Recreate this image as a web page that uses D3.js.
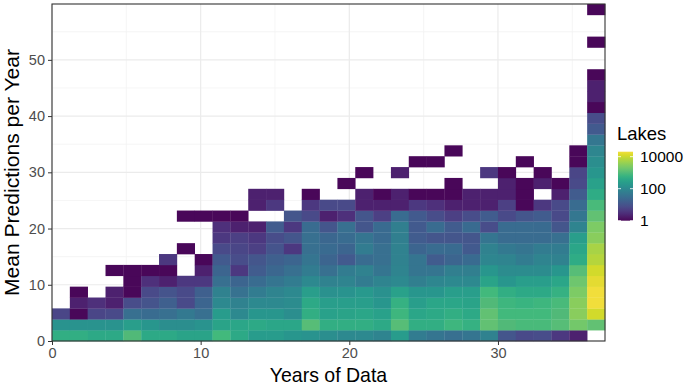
<!DOCTYPE html>
<html>
<head>
<meta charset="utf-8">
<script src="https://cdn.jsdelivr.net/npm/d3@7"></script>
<style>
  body { margin: 0; background: #fff; }
  text { font-family: "Liberation Sans", Arial, sans-serif; }
</style>
</head>
<body>
<div id="chart"></div>
<script>
// 2d histogram bins: years of data (x) and mean predictions per year (y)
var yearBinWidth = 1.2;
var predBinWidth = 58 / 30;

// lakes per bin, one array per year bin, lowest prediction bin first (null = empty)
var lakeCounts = [
  [501, 158, 6],
  [501, 158, 1, 2, 1],
  [398, 158, 6, 3],
  [398, 158, 7, 2, 2, null, 1],
  [1000, 251, 32, 8, 1, 1, 1],
  [398, 178, 28, 10, 7, 3, 1],
  [398, 126, 32, 16, 10, 2, 1, 4],
  [316, 126, 50, 7, 7, 4, null, null, 1, null, null, 1],
  [316, 158, 32, 20, 16, 4, 2, 1, null, null, null, 1],
  [794, 316, 224, 100, 71, 32, 20, 13, 7, 4, 3, 1],
  [398, 355, 100, 71, 35, 20, 4, 8, 6, 5, 2, 1],
  [224, 398, 178, 100, 56, 28, 14, 11, 5, 4, 2, null, 2, 2],
  [224, 355, 178, 100, 79, 40, 22, 16, 10, 8, 14, null, 4, 2],
  [178, 355, 126, 112, 100, 56, 32, 20, 4, 11, 4, 11],
  [158, 1122, 501, 398, 251, 100, 56, 40, 32, 32, 28, 7, 4, 1],
  [126, 501, 282, 251, 141, 71, 32, 20, 25, 22, 11, 2, 7],
  [100, 501, 316, 251, 158, 79, 56, 13, 20, 28, 32, 3, 7, null, 1],
  [100, 501, 355, 251, 200, 56, 71, 28, 56, 40, 11, 11, 2, 2, null, 1],
  [79, 398, 282, 178, 141, 79, 40, 32, 32, 25, 25, 5, 2, 1],
  [224, 1122, 708, 562, 282, 100, 79, 71, 71, 63, 63, 28, 2, 2, null, 2],
  [56, 501, 355, 251, 178, 63, 40, 40, 20, 14, 13, 13, 4, 1, null, null, 1],
  [40, 501, 398, 355, 178, 89, 40, 14, 28, 11, 28, 8, 3, 1, null, null, 1],
  [32, 708, 501, 355, 251, 100, 63, 20, 25, 11, 14, 5, 2, 1, 1, null, null, 1],
  [40, 562, 398, 316, 251, 100, 63, 25, 13, 11, 25, 8, 2, 2],
  [71, 1413, 1413, 1000, 794, 316, 178, 89, 71, 40, 8, 14, 2, 2, null, 4],
  [11, 1000, 794, 708, 501, 178, 112, 79, 50, 28, 28, 7, 5, 2, 2, 1],
  [7, 891, 794, 631, 398, 251, 112, 56, 40, 28, 28, 11, 1, 1, 1, null, 1],
  [8, 891, 794, 708, 398, 251, 112, 79, 56, 28, 25, 14, 4, null, 2, 1],
  [4, 1122, 1000, 891, 562, 355, 178, 71, 56, 32, 11, 7, 7, 2, 1],
  [2, 1995, 3162, 3162, 2512, 1778, 1122, 447, 355, 251, 79, 45, 28, 14, 7, 6, 1, 1],
  [null, 1413, 11220, 19953, 20417, 15849, 11220, 7079, 5623, 3162, 2512, 1413, 891, 447, 282, 178, 126, 89, 45, 13, 8, 1, 2, 2, 1, null, null, 1, null, null, 1]
];

var xTicks = [0, 10, 20, 30];
var yTicks = [0, 10, 20, 30, 40, 50];
var legendTicks = [1, 100, 10000];

var width = 685, height = 387;
var margin = {top: 4, right: 80, bottom: 46, left: 52};

// flatten into tiles
var tiles = [];
lakeCounts.forEach(function(col, i) {
  col.forEach(function(n, j) {
    if (n != null) tiles.push({xBin: i, yBin: j, n: n});
  });
});

var nx = lakeCounts.length;
var ny = d3.max(lakeCounts, function(c) { return c.length; });

var x = d3.scaleLinear()
  .domain([0, nx * yearBinWidth])
  .range([margin.left, width - margin.right]);

var y = d3.scaleLinear()
  .domain([0, ny * predBinWidth])
  .range([height - margin.bottom, margin.top]);

// viridis, a touch muted like the original render
function viridisMuted(t) {
  var c = d3.hsl(d3.interpolateViridis(t));
  c.s *= 0.88;
  c.l = Math.min(1, c.l + 0.02);
  return c.formatHex();
}

var maxN = d3.max(tiles, function(d) { return d.n; });
var color = d3.scaleSequentialLog(viridisMuted)
  .domain([1, maxN]);

var svg = d3.select("#chart").append("svg")
  .attr("width", width)
  .attr("height", height);

// grid lines (theme_bw look)
var minorX = [5, 15, 25, 35], minorY = [5, 15, 25, 35, 45, 55];
var grid = svg.append("g");
grid.selectAll(".minx").data(minorX).enter().append("line")
  .attr("x1", function(d) { return x(d); }).attr("x2", function(d) { return x(d); })
  .attr("y1", y.range()[0]).attr("y2", y.range()[1])
  .attr("stroke", "#f3f3f3").attr("stroke-width", 0.8);
grid.selectAll(".miny").data(minorY).enter().append("line")
  .attr("y1", function(d) { return y(d); }).attr("y2", function(d) { return y(d); })
  .attr("x1", x.range()[0]).attr("x2", x.range()[1])
  .attr("stroke", "#f3f3f3").attr("stroke-width", 0.8);
grid.selectAll(".majx").data(xTicks).enter().append("line")
  .attr("x1", function(d) { return x(d); }).attr("x2", function(d) { return x(d); })
  .attr("y1", y.range()[0]).attr("y2", y.range()[1])
  .attr("stroke", "#ebebeb").attr("stroke-width", 1.2);
grid.selectAll(".majy").data(yTicks).enter().append("line")
  .attr("y1", function(d) { return y(d); }).attr("y2", function(d) { return y(d); })
  .attr("x1", x.range()[0]).attr("x2", x.range()[1])
  .attr("stroke", "#ebebeb").attr("stroke-width", 1.2);

// tiles
svg.append("g").selectAll("rect")
  .data(tiles)
  .enter().append("rect")
  .attr("x", function(d) { return x(d.xBin * yearBinWidth); })
  .attr("y", function(d) { return y((d.yBin + 1) * predBinWidth); })
  .attr("width", function(d) { return x((d.xBin + 1) * yearBinWidth) - x(d.xBin * yearBinWidth) + 0.3; })
  .attr("height", function(d) { return y(d.yBin * predBinWidth) - y((d.yBin + 1) * predBinWidth) + 0.3; })
  .attr("fill", function(d) { return color(d.n); });

// panel border
svg.append("rect")
  .attr("x", x.range()[0]).attr("y", y.range()[1])
  .attr("width", x.range()[1] - x.range()[0])
  .attr("height", y.range()[0] - y.range()[1])
  .attr("fill", "none").attr("stroke", "#333333").attr("stroke-width", 1.1);

// axes
var xAxis = svg.append("g")
  .attr("transform", "translate(0," + y.range()[0] + ")")
  .call(d3.axisBottom(x).tickValues(xTicks).tickSize(4).tickPadding(3));
var yAxis = svg.append("g")
  .attr("transform", "translate(" + x.range()[0] + ",0)")
  .call(d3.axisLeft(y).tickValues(yTicks).tickSize(4).tickPadding(3));
[xAxis, yAxis].forEach(function(a) {
  a.select(".domain").remove();
  a.selectAll("line").attr("stroke", "#333333");
  a.selectAll("text").attr("fill", "#4d4d4d").style("font-size", "14.5px")
    .style("font-family", "Liberation Sans, Arial, sans-serif");
});

// axis titles (the original is slightly stretched vertically)
svg.append("text")
  .attr("transform", "translate(" + (x.range()[0] + x.range()[1]) / 2 + ",382) scale(1,1.08)")
  .attr("text-anchor", "middle")
  .style("font-size", "19.5px")
  .text("Years of Data");
svg.append("text")
  .attr("transform", "translate(19," + (y.range()[0] + y.range()[1]) / 2 + ") rotate(-90) scale(1.08,1)")
  .attr("text-anchor", "middle")
  .style("font-size", "19.5px")
  .text("Mean Predictions per Year");

// legend
var barX = 618, barW = 15, barTop = 151.7, barBottom = 220.7;
var ly = d3.scaleLog().domain([1, maxN]).range([barBottom, barTop]);
var defs = svg.append("defs");
var grad = defs.append("linearGradient").attr("id", "lakesGrad")
  .attr("x1", 0).attr("x2", 0).attr("y1", 1).attr("y2", 0);
d3.range(0, 1.0001, 0.05).forEach(function(t) {
  grad.append("stop").attr("offset", t).attr("stop-color", viridisMuted(t));
});
svg.append("rect")
  .attr("x", barX).attr("y", barTop).attr("width", barW).attr("height", barBottom - barTop)
  .attr("fill", "url(#lakesGrad)");
legendTicks.forEach(function(v) {
  var ty = ly(v);
  svg.append("line").attr("x1", barX).attr("x2", barX + 3).attr("y1", ty).attr("y2", ty)
    .attr("stroke", "#fff").attr("stroke-width", 0.8);
  svg.append("line").attr("x1", barX + barW - 3).attr("x2", barX + barW).attr("y1", ty).attr("y2", ty)
    .attr("stroke", "#fff").attr("stroke-width", 0.8);
  svg.append("text").attr("x", 640).attr("y", ty).attr("dy", "0.35em")
    .style("font-size", "15.5px").attr("fill", "#000")
    .text(d3.format("d")(v));
});
svg.append("text")
  .attr("x", 617).attr("y", 140)
  .style("font-size", "18.5px")
  .text("Lakes");
</script>
</body>
</html>
